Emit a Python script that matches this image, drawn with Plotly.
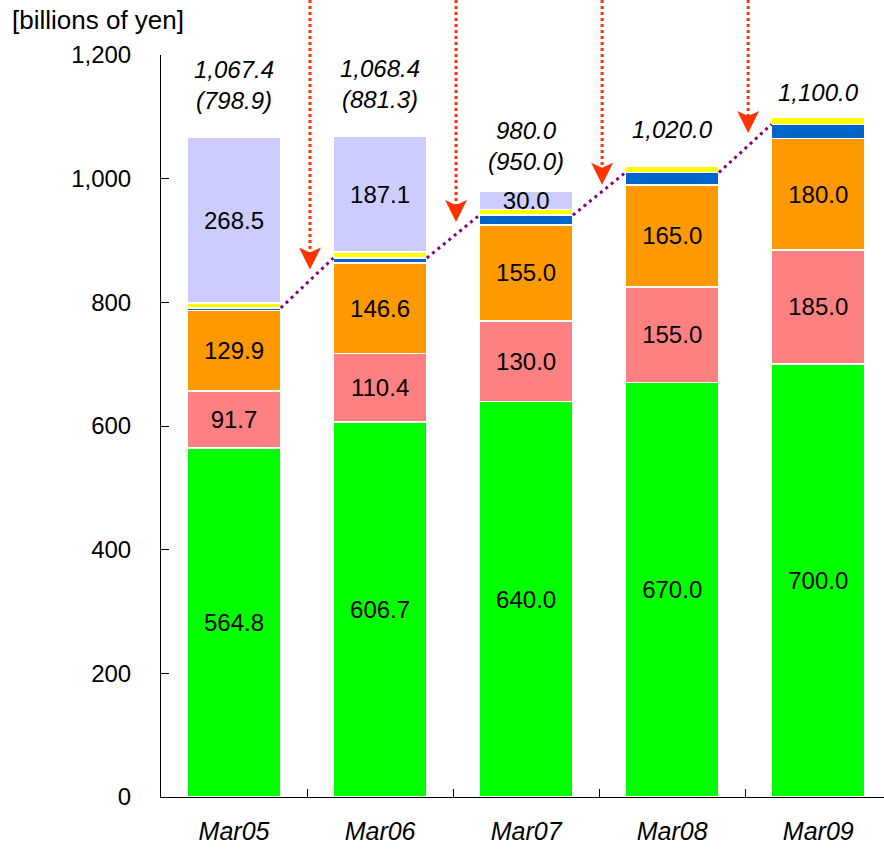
import plotly.graph_objects as go

# Fiscal periods and stacked components (billions of yen)
periods = ["Mar05", "Mar06", "Mar07", "Mar08", "Mar09"]
green = [564.8, 606.7, 640.0, 670.0, 700.0]
pink = [91.7, 110.4, 130.0, 155.0, 185.0]
orange = [129.9, 146.6, 155.0, 165.0, 180.0]
blue = [4.5, 8.0, 16.0, 20.0, 23.0]
yellow = [8.0, 9.6, 9.0, 10.0, 12.0]
lavender = [268.5, 187.1, 30.0, 0.0, 0.0]

totals = [1067.4, 1068.4, 980.0, 1020.0, 1100.0]
subtotals = [798.9, 881.3, 950.0, None, None]

# where the red arrows point, in axis units
arrow_tips = [853, 930, 990, 1074]

Y_MAX = 1200
W, H = 884, 849
M_L, M_R, M_T, M_B = 161, 0, 55, 52
PLOT_H = H - M_T - M_B
BAR_W = 0.64
FONT = "Liberation Sans, Arial, sans-serif"
FS = 24

fig = go.Figure()


def labels(vals, show=True):
    if not show:
        return ["" for _ in vals]
    return [f"{v:.1f}" if v > 0 else "" for v in vals]


series = [
    ("green", green, "#00FF00", True),
    ("pink", pink, "#FF8080", True),
    ("orange", orange, "#FF9900", True),
    ("blue", blue, "#0066CC", False),
    ("yellow", yellow, "#FFFF00", False),
    ("lavender", lavender, "#CCCCFF", True),
]
for name, vals, color, show in series:
    fig.add_trace(go.Bar(
        x=periods, y=vals, name=name,
        marker=dict(color=color, line=dict(color="white", width=1.5)),
        width=BAR_W,
        text=labels(vals, show),
        textposition="inside",
        insidetextanchor="middle",
        textfont=dict(family=FONT, size=FS, color="black"),
        hoverinfo="skip",
    ))

# dotted purple connector between consecutive bars at the blue-segment top
levels = [g + p + o + b for g, p, o, b in zip(green, pink, orange, blue)]
lx, ly = [], []
for i in range(len(periods) - 1):
    lx += [i + BAR_W / 2, i + 1 - BAR_W / 2, None]
    ly += [levels[i], levels[i + 1], None]
fig.add_trace(go.Scatter(
    x=lx, y=ly, mode="lines", xaxis="x2",
    line=dict(color="#800080", width=3, dash="3px,4px"),
    hoverinfo="skip", showlegend=False,
))

# total labels above each bar
shifts = [21, 21, 14, 21, 9]
for i, (t, s) in enumerate(zip(totals, subtotals)):
    txt = f"<i>{t:,.1f}</i>"
    if s is not None:
        txt += f"<br><i>({s:,.1f})</i>"
    fig.add_annotation(
        x=i, y=t, xref="x2", yref="y", text=txt, showarrow=False,
        yanchor="bottom", yshift=shifts[i],
        font=dict(family=FONT, size=FS, color="black"),
    )

# red dotted arrows dropping from the top edge
shapes = []
top_paper = (H - M_B) / PLOT_H
for i, tip in enumerate(arrow_tips):
    xa = i + 0.52
    shapes.append(dict(
        type="line", xref="x2", yref="paper",
        x0=xa, x1=xa, y0=top_paper, y1=(tip / Y_MAX) + 16 / PLOT_H,
        line=dict(color="#FF3300", width=3, dash="3px,3px"),
    ))
    shapes.append(dict(
        type="path", xref="x2", yref="y",
        xsizemode="pixel", ysizemode="pixel",
        xanchor=xa, yanchor=tip,
        path="M0,0 L-11,22 L0,17 L11,22 Z",
        fillcolor="#FF3300", line=dict(width=0),
    ))

fig.add_annotation(
    text="[billions of yen]", xref="paper", yref="paper",
    x=-(M_L - 10) / (W - M_L - M_R), y=1 + 35 / PLOT_H,
    xanchor="left", yanchor="middle", showarrow=False,
    font=dict(family=FONT, size=26, color="black"),
)

x_range = [-0.5, 4.45]
fig.update_layout(
    width=W, height=H,
    margin=dict(l=M_L, r=M_R, t=M_T, b=M_B, pad=0, autoexpand=False),
    barmode="stack",
    showlegend=False,
    plot_bgcolor="white", paper_bgcolor="white",
    uniformtext=dict(minsize=FS, mode="show"),
    shapes=shapes,
    xaxis=dict(
        type="category", range=x_range, automargin=False,
        showline=True, linecolor="black", linewidth=1,
        ticks="inside", ticklen=8, tickcolor="black", tickson="boundaries",
        showgrid=False, zeroline=False,
        tickfont=dict(family=FONT, size=25, color="black", style="italic"),
        ticklabelstandoff=12,
    ),
    xaxis2=dict(
        overlaying="x", range=x_range, visible=False,
        showgrid=False, zeroline=False,
    ),
    yaxis=dict(
        range=[0, Y_MAX], tickvals=list(range(0, 1201, 200)),
        tickformat=",d", automargin=False,
        showline=True, linecolor="black", linewidth=1,
        ticks="inside", ticklen=8, tickcolor="black",
        showgrid=False, zeroline=False,
        tickfont=dict(family=FONT, size=FS, color="black"),
        ticklabelstandoff=24,
    ),
)

fig.write_html("out.html")
